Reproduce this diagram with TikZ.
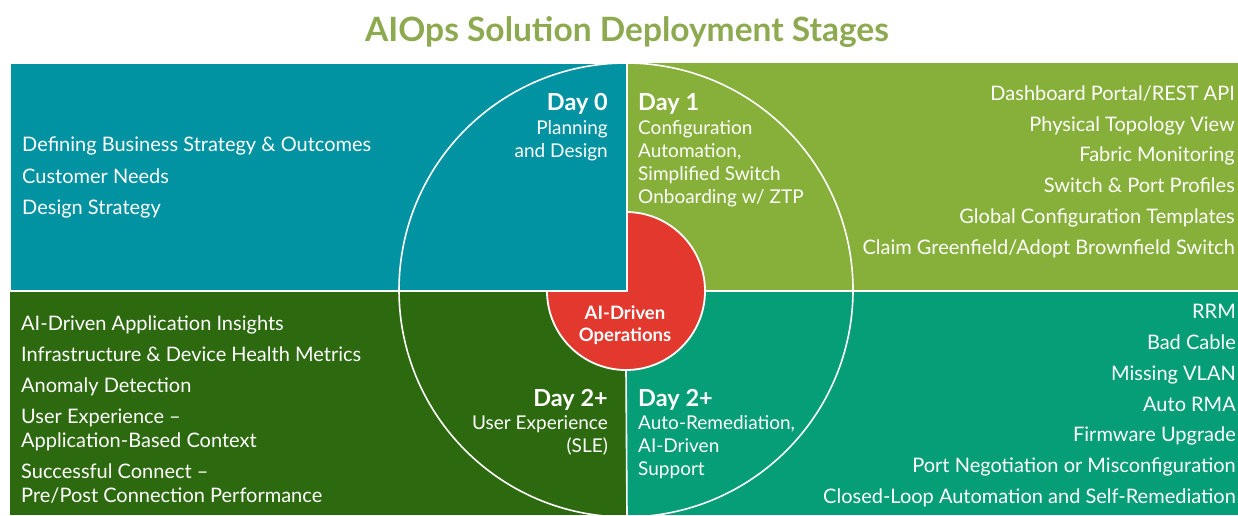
\documentclass[tikz,border=0pt]{standalone}
\usepackage{fontspec}
\setmainfont{Lato}
\definecolor{tealq}{RGB}{2,147,163}
\definecolor{limeq}{RGB}{134,176,58}
\definecolor{darkq}{RGB}{45,106,15}
\definecolor{seaq}{RGB}{6,158,118}
\definecolor{redc}{RGB}{226,56,46}
\definecolor{titlec}{RGB}{141,170,80}
\begin{document}
\begin{tikzpicture}[x=1pt,y=-1pt,
  listtext/.style={text=white,inner sep=0pt,font=\fontsize{20}{24}\selectfont},
  listL/.style={listtext,anchor=base west,align=left},
  listR/.style={listtext,anchor=base east,align=right},
  dayhead/.style={text=white,inner sep=0pt,font=\bfseries\fontsize{23.5}{25}\selectfont},
  daysub/.style={text=white,inner sep=0pt,font=\fontsize{19}{23}\selectfont},
  sep/.style={draw=white,line width=1.6pt}]
\useasboundingbox (0,0) rectangle (1238,515);
\fill[white] (0,0) rectangle (1238,515);
% quadrants
\fill[limeq] (627,63) rectangle (1238,291);
\fill[darkq] (10,291) rectangle (627,515);
\fill[seaq] (627,291) rectangle (1238,515);
% central red circle
\node[circle,fill=redc,draw=white,line width=1.8pt,minimum size=158pt,inner sep=0pt] (core) at (626,291) {};
% top-left panel over the circle
\filldraw[fill=tealq,draw=white,line width=1.6pt] (10,63) rectangle (627,291);
% big ring
\node[circle,draw=white,line width=1.6pt,minimum size=454pt,inner sep=0pt] (ring) at (626,290) {};
% separators
\coordinate (bot) at (627,515);
\coordinate (rgt) at (1238,291);
\draw[sep] (core.south) -- (bot);
\draw[sep] (core.east) -- (rgt);
% title
\node[text=titlec,font=\bfseries\fontsize{33.5}{36}\selectfont,anchor=base,inner sep=0pt] (title) at (627,41) {AIOps Solution Deployment Stages};
% center label (base = last line)
\node[text=white,font=\bfseries\fontsize{18.5}{22.4}\selectfont,align=center,anchor=base,inner sep=0pt] (ops) at (625,341.7) {AI-Driven\\Operations};
% Day 0
\node[dayhead,anchor=base east] (d0) at (608,110) {Day 0};
\node[daysub,anchor=base east,align=right] (d0s) at (608,157) {Planning\\and Design};
% Day 1
\node[dayhead,anchor=base west] (d1) at (638,110) {Day 1};
\node[daysub,anchor=base west,align=left] (d1s) at (638,203.3) {Configuration\\Automation,\\Simplified Switch\\Onboarding w/ ZTP};
% Day 2+ left
\node[dayhead,anchor=base east] (d2l) at (608,406) {Day 2+};
\node[daysub,anchor=base east,align=right] (d2ls) at (608,452) {User Experience\\(SLE)};
% Day 2+ right
\node[dayhead,anchor=base west] (d2r) at (638,406) {Day 2+};
\node[daysub,anchor=base west,align=left] (d2rs) at (638,475.3) {Auto-Remediation,\\AI-Driven\\Support};
% top-left list
\node[listL] (tl1) at (22,151.7) {Defining Business Strategy \& Outcomes};
\node[listL] (tl2) at (22,183) {Customer Needs};
\node[listL] (tl3) at (22,214) {Design Strategy};
% bottom-left list
\node[listL] (bl1) at (21,330.7) {AI-Driven Application Insights};
\node[listL] (bl2) at (21,361.7) {Infrastructure \& Device Health Metrics};
\node[listL] (bl3) at (21,392.7) {Anomaly Detection};
\node[listL] (bl4) at (21,447.3) {User Experience –\\Application-Based Context};
\node[listL] (bl5) at (21,502.7) {Successful Connect –\\Pre/Post Connection Performance};
% top-right list
\node[listR] (tr1) at (1235,100) {Dashboard Portal/REST API};
\node[listR] (tr2) at (1235,131) {Physical Topology View};
\node[listR] (tr3) at (1235,161.7) {Fabric Monitoring};
\node[listR] (tr4) at (1235,192.7) {Switch \& Port Profiles};
\node[listR] (tr5) at (1235,223.3) {Global Configuration Templates};
\node[listR] (tr6) at (1235,254.3) {Claim Greenfield/Adopt Brownfield Switch};
% bottom-right list
\node[listR] (br1) at (1236,318.3) {RRM};
\node[listR] (br2) at (1236,349.3) {Bad Cable};
\node[listR] (br3) at (1236,380) {Missing VLAN};
\node[listR] (br4) at (1236,411) {Auto RMA};
\node[listR] (br5) at (1236,441.7) {Firmware Upgrade};
\node[listR] (br6) at (1236,472.7) {Port Negotiation or Misconfiguration};
\node[listR] (br7) at (1236,503.3) {Closed-Loop Automation and Self-Remediation};
\end{tikzpicture}
\end{document}
